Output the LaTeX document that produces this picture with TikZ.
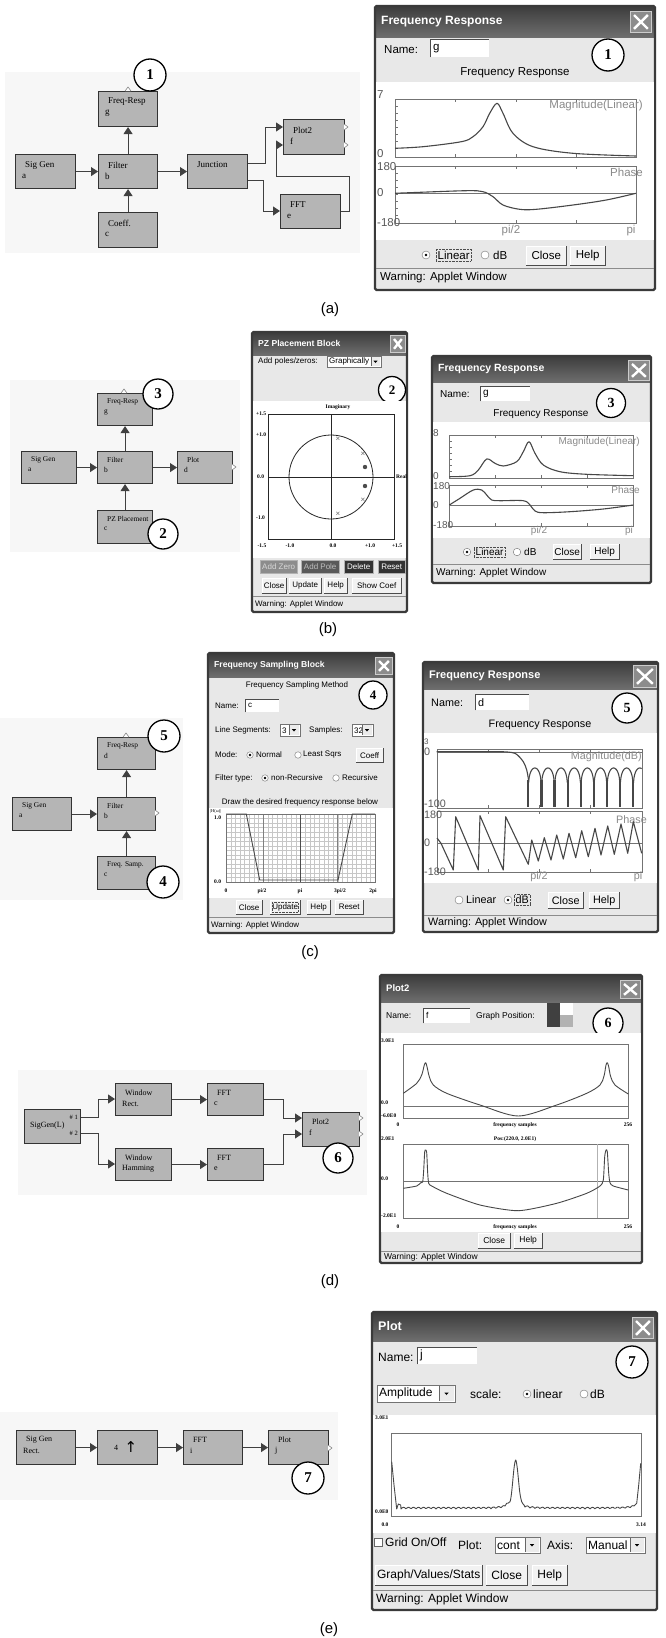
\documentclass[tikz,border=0pt]{standalone}
\usepackage{fontspec}
\setmainfont{Liberation Serif}
\setsansfont{Liberation Sans}
\newfontfamily\symfont{DejaVu Sans}
\usetikzlibrary{arrows.meta,calc}

\newcommand{\pxfont}[1]{\fontsize{#1}{#1}\selectfont}
\definecolor{panel}{HTML}{E8E8E8}
\definecolor{tbtop}{HTML}{3C3C3C}
\definecolor{tbbot}{HTML}{6E6E6E}
\definecolor{winframe}{HTML}{3A3A3A}
\definecolor{curvec}{HTML}{474747}
\definecolor{lbl}{HTML}{8A8A8A}
\definecolor{blockfill}{HTML}{B5B5B5}
\definecolor{canvas}{HTML}{F7F7F7}

\newcommand{\blkfs}{9}
\newcommand{\lnA}{11}
\newcommand{\lnB}{22}

% block of the signal-flow editor: name, x1, y1, x2, y2, first line, second line
\newcommand{\blockat}[7]{%
  \node[blk, minimum width={#4-#2}, minimum height={#5-#3}] (#1) at (#2,#3) {};
  \node[btxt] (#1-a) at ({#2+10},{#3+\lnA}) {#6};
  \node[btxt] (#1-b) at ({#2+7},{#3+\lnB}) {#7};
}
\newcommand{\portR}[2]{\draw[port] (#1,{#2-3}) -- ({#1+4},#2) -- (#1,{#2+3});}
\newcommand{\portT}[2]{\draw[port] ({#1-3},#2) -- (#1,{#2-4}) -- ({#1+3},#2);}

% applet window: name, x1, y1, x2, y2, title-bar bottom, title, title size
\newcommand{\appwin}[8]{%
  \fill[panel] (#2,#3) rectangle (#4,#5);
  \shade[top color=tbtop, bottom color=tbbot] (#2,#3) rectangle (#4,#6);
  \draw[winframe, line width=2.2pt, rounded corners=1.5pt] (#2,#3) rectangle (#4,#5);
  \node[font=\sffamily\bfseries\pxfont{#8}, text=white, anchor=west, inner sep=0pt] (#1-title) at ({#2+6},{(#3+#6)/2}) {#7};
}
% close box of the title bar
\newcommand{\closebtn}[5]{%
  \node[draw=white!80!black, line width=0.8pt, fill=black!45, minimum width={#4-#2}, minimum height={#5-#3}, anchor=north west, inner sep=0pt] (#1) at (#2,#3) {};
  \draw[white, line width=2.4pt] ($(#1.north west)+(4,4)$) -- ($(#1.south east)+(-4,-4)$) ($(#1.north east)+(-4,4)$) -- ($(#1.south west)+(4,-4)$);
}
% push button
\newcommand{\uibtn}[6]{%
  \node[fill=black!5, minimum width={#4-#2}, minimum height={#5-#3}, anchor=north west, inner sep=0pt] (#1) at (#2,#3) {};
  \node[inner sep=0pt] (#1-t) at (#1.center) {#6};
  \draw[white, line width=0.8pt] (#1.south west) -- (#1.north west) -- (#1.north east);
  \draw[black!70, line width=0.9pt] (#1.north east) -- (#1.south east) -- (#1.south west);
}
% flat coloured button
\newcommand{\flatbtn}[8]{%
  \node[fill=#6, draw=black!30, minimum width={#4-#2}, minimum height={#5-#3}, anchor=north west, inner sep=0pt] (#1) at (#2,#3) {};
  \node[text=#7, inner sep=0pt] (#1-t) at (#1.center) {#8};
}
% text field
\newcommand{\txtbox}[6]{%
  \node[fill=white, minimum width={#4-#2}, minimum height={#5-#3}, anchor=north west, inner sep=0pt] (#1) at (#2,#3) {};
  \draw[black!70, line width=0.9pt] (#1.south west) -- (#1.north west) -- (#1.north east);
  \node[anchor=west, inner sep=0pt] (#1-t) at ($(#1.west)+(3,0)$) {#6};
}
% drop-down list
\newcommand{\ddown}[6]{%
  \node[fill=white, draw=black!55, line width=0.6pt, minimum width={#4-#2}, minimum height={#5-#3}, anchor=north west, inner sep=0pt] (#1) at (#2,#3) {};
  \node[anchor=west, inner sep=0pt] (#1-t) at ($(#1.west)+(2,0)$) {#6};
  \fill[black!8] ({#4-(#5-#3)+1},{#3+1}) rectangle ({#4-1},{#5-1});
  \draw[black!60, line width=0.5pt] ({#4-(#5-#3)+1},{#3+1}) -- ({#4-(#5-#3)+1},{#5-1});
  \fill[black] ({#4-(#5-#3)/2-2.2},{(#3+#5)/2-1}) -- ({#4-(#5-#3)/2+2.2},{(#3+#5)/2-1}) -- ({#4-(#5-#3)/2},{(#3+#5)/2+1.5}) -- cycle;
}
% radio buttons: name, x, y, size
\newcommand{\radio}[4]{\node[circle, draw=black!55, fill=white, minimum size=#4pt, inner sep=0pt] (#1) at (#2,#3) {};}
\newcommand{\radioon}[4]{\radio{#1}{#2}{#3}{#4}\fill[black] (#1.center) circle (1.4pt);}

\tikzset{
  blk/.style={rectangle, draw=black!80, fill=blockfill, line width=1.1pt, inner sep=0pt, anchor=north west},
  btxt/.style={font=\rmfamily\pxfont{\blkfs}, anchor=west, inner sep=0pt},
  conn/.style={draw=black!75, line width=0.9pt, -{Triangle[length=7pt,width=9pt]}},
  num/.style={circle, draw=black, line width=1.3pt, fill=white, minimum size=32pt, inner sep=0pt, font=\rmfamily\bfseries\pxfont{15}},
  port/.style={draw=black!55, fill=white, line width=0.5pt},
  lab/.style={anchor=west, inner sep=0pt},
  ctr/.style={inner sep=0pt},
  curve/.style={draw=curvec, line width=1.1pt, line join=round},
  pbox/.style={draw=black!55, line width=0.8pt},
  glbl/.style={text=lbl, inner sep=0pt},
  tinyl/.style={font=\rmfamily\bfseries\pxfont{5.5}, inner sep=0pt},
  sep/.style={draw=black!45, line width=0.8pt},
  caption/.style={font=\sffamily\pxfont{15}, inner sep=0pt},
}

\begin{document}
\begin{tikzpicture}[x=1pt,y=-1pt]
\useasboundingbox (0,0) rectangle (665,1638);
\fill[white] (0,0) rectangle (665,1638);

% =========================== (a) ===========================
\fill[canvas] (5,72) rectangle (360,253);
\blockat{fra}{98}{91}{157}{126}{Freq-Resp}{g}
\blockat{sga}{15}{154}{75}{188}{Sig Gen}{a}
\blockat{fla}{98}{154}{157}{188}{Filter}{b}
\blockat{jna}{187}{154}{247}{188}{Junction}{}
\blockat{coa}{98}{212}{157}{247}{Coeff.}{c}
\blockat{p2a}{283}{119}{344}{154}{Plot2}{f}
\blockat{ffa}{280}{194}{340}{228}{FFT}{e}
\draw[conn] (sga) -- (fla);
\draw[conn] (fla) -- (jna);
\draw[conn] (fla) -- (fra);
\draw[conn] (coa) -- (fla);
\draw[conn] (jna.east |- 0,163) -- (265,163) |- (p2a.west |- 0,127);
\draw[conn] (jna.east |- 0,180) -- (263,180) |- (ffa.west |- 0,211);
\draw[conn] (ffa.east |- 0,211) -- (349,211) -- (349,176) -- (276,176) |- (p2a.west |- 0,145);
\portT{128}{91}
\portR{344}{127}\portR{344}{145}
\node[num] (a-n1) at (150,75) {1};

\appwin{wa}{375}{6}{655}{290}{37}{Frequency Response}{12}
\closebtn{wa-x}{630}{11}{651}{32}
\begin{scope}[font=\sffamily\pxfont{11.5}]
\node[lab] (wa-name) at (384,50) {Name:};
\txtbox{wa-tb}{430}{39}{489}{57}{g}
\node[num] (wa-n1) at (608,55) {1};
\node[ctr] (wa-head) at (515,73) {Frequency Response};
\fill[white] (376,82) rectangle (654,240);
\draw[pbox] (395,99) rectangle (636,157);
\draw[pbox] (395,166) rectangle (636,223);
\draw[pbox] (395,193) -- (636,193);
\foreach \tx in {455,516,576} {\draw[pbox] (\tx,99) -- (\tx,102) (\tx,157) -- (\tx,154) (\tx,166) -- (\tx,169) (\tx,223) -- (\tx,220);}
\foreach \ty in {106,113,...,150} {\draw[pbox] (395,\ty) -- (398,\ty);}
\foreach \ty in {173,180,...,216} {\draw[pbox] (395,\ty) -- (398,\ty);}
\node[lab, text=black!65] (wa-m7) at (377,95) {7};
\node[lab, text=black!65] (wa-m0) at (377,154) {0};
\node[lab, text=black!65] (wa-p180) at (377,167) {180};
\node[lab, text=black!65] (wa-p0) at (377,193) {0};
\node[lab, text=black!65] (wa-pm180) at (377,223) {-180};
\node[glbl, anchor=east] (wa-mag) at (643,106) {Magnitude(Linear)};
\node[glbl, anchor=east] (wa-ph) at (643,172) {Phase};
\node[glbl] (wa-pi2) at (511,231) {pi/2};
\node[glbl] (wa-pi) at (631,231) {pi};
\draw[curve] plot[smooth, tension=0.55] coordinates {(395,148.3) (423,146.7) (461.3,141.7) (473,136.7) (483,126.7) (489.7,113.3) (497,103.3) (503,113.3) (513,133.3) (533,146.7) (573,153.3) (636,156)};
\draw[curve] plot[smooth, tension=0.55] coordinates {(395,193.3) (409.7,192.7) (466.3,190.7) (483,191.7) (493,196.7) (503,205) (519.7,209.3) (536.3,209.3) (573,205) (606.3,200) (636,193.3)};
\radioon{wa-r1}{426}{255}{8}
\node[lab, draw=black!70, densely dotted, inner sep=1.5pt] (wa-lin) at (436,255) {Linear};
\radio{wa-r2}{485}{255}{8}
\node[lab] (wa-db) at (493,255) {dB};
\uibtn{wa-close}{526}{246}{566}{265}{Close}
\uibtn{wa-help}{570}{246}{605}{265}{Help}
\draw[sep] (376,268) -- (654,268);
\node[lab] (wa-warn) at (380,278) {Warning: Applet Window};
\end{scope}
\node[caption] (cap-a) at (330,310) {(a)};

% =========================== (b) ===========================
\renewcommand{\blkfs}{7.4}\renewcommand{\lnA}{9}\renewcommand{\lnB}{19}
\fill[canvas] (10,380) rectangle (240,552);
\blockat{frb}{97}{393}{152}{425}{Freq-Resp}{g}
\blockat{sgb}{21}{451}{76}{483}{Sig Gen}{a}
\blockat{flb}{97}{451}{152}{483}{Filter}{b}
\blockat{plb}{177}{451}{232}{483}{Plot}{d}
\blockat{pzb}{97}{510}{152}{543}{PZ Placement}{c}
\draw[conn] (sgb) -- (flb);
\draw[conn] (flb) -- (plb);
\draw[conn] (flb) -- (frb);
\draw[conn] (pzb) -- (flb);
\portT{124}{393}
\portR{232}{467}
\node[num, minimum size=30pt] (b-n3) at (158,394) {3};
\node[num, minimum size=30pt] (b-n2) at (163,534) {2};

% pole/zero placement window
\appwin{wpz}{252}{332}{407}{612}{355}{PZ Placement Block}{8.6}
\closebtn{wpz-x}{390}{335}{405}{352}
\begin{scope}[font=\sffamily\pxfont{8}]
\node[lab] (wpz-add) at (258,361) {Add poles/zeros:};
\ddown{wpz-dd}{327}{356}{381}{367}{Graphically}
\node[num, minimum size=27pt, font=\rmfamily\bfseries\pxfont{13}] (wpz-n2) at (392,390) {2};
\fill[white] (253,401) rectangle (406,558);
\node[tinyl] (wpz-im) at (338,407) {Imaginary};
\draw[pbox, draw=black!85] (268,414) rectangle (394,539);
\draw[black!85, line width=0.8pt] (331,414) -- (331,539) (268,477) -- (394,477);
\draw[black!85, line width=0.8pt] (331,477) circle (42pt);
\node[tinyl, anchor=west] (wpz-y1) at (256,414) {+1.5};
\node[tinyl, anchor=west] (wpz-y2) at (256,435) {+1.0};
\node[tinyl, anchor=west] (wpz-y3) at (257,477) {0.0};
\node[tinyl, anchor=west] (wpz-y4) at (256,518) {-1.0};
\node[tinyl] (wpz-x1) at (262,546) {-1.5};
\node[tinyl] (wpz-x2) at (290,546) {-1.0};
\node[tinyl] (wpz-x3) at (333,546) {0.0};
\node[tinyl] (wpz-x4) at (370,546) {+1.0};
\node[tinyl] (wpz-x5) at (397,546) {+1.5};
\node[tinyl, anchor=west] (wpz-re) at (396,477) {Real};
\foreach \px/\py [count=\i] in {338/439,363/454,363/500,338/514} {\node[text=black!60, font=\sffamily\pxfont{8}, inner sep=0pt] (wpz-p\i) at (\px,\py) {×};}
\fill[black!70] (365,467) circle (2.2pt) (365,486) circle (2.2pt);
\flatbtn{wpz-b1}{260}{560}{297}{573}{black!45}{black!15}{Add Zero}
\flatbtn{wpz-b2}{301}{560}{339}{573}{black!65}{black!25}{Add Pole}
\flatbtn{wpz-b3}{344}{560}{373}{573}{black!80}{white}{Delete}
\flatbtn{wpz-b4}{378}{560}{405}{573}{black!80}{white}{Reset}
\uibtn{wpz-c1}{262}{578}{286}{593}{Close}
\uibtn{wpz-c2}{289}{578}{321}{593}{Update}
\uibtn{wpz-c3}{324}{578}{347}{593}{Help}
\uibtn{wpz-c4}{352}{578}{401}{593}{Show Coef}
\draw[sep] (253,596) -- (406,596);
\node[lab] (wpz-warn) at (255,604) {Warning: Applet Window};
\end{scope}
\node[caption] (cap-b) at (328,630) {(b)};

% frequency response window
\appwin{wfb}{432}{356}{651}{583}{382}{Frequency Response}{10.5}
\closebtn{wfb-x}{628}{360}{649}{380}
\begin{scope}[font=\sffamily\pxfont{10}]
\node[lab] (wfb-name) at (440,394) {Name:};
\txtbox{wfb-tb}{480}{386}{530}{401}{g}
\node[num, minimum size=29pt, font=\rmfamily\bfseries\pxfont{14}] (wfb-n3) at (611,403) {3};
\node[ctr] (wfb-head) at (541,414) {Frequency Response};
\fill[white] (433,422) rectangle (650,538);
\draw[pbox] (449,435) rectangle (633,478);
\draw[pbox] (449,485) rectangle (633,526);
\draw[pbox] (449,505) -- (633,505);
\foreach \tx in {495,541,587} {\draw[pbox] (\tx,435) -- (\tx,438) (\tx,478) -- (\tx,475) (\tx,485) -- (\tx,488) (\tx,526) -- (\tx,523);}
\foreach \ty in {441,447,...,472} {\draw[pbox] (449,\ty) -- (452,\ty);}
\node[lab, text=black!65] (wfb-m8) at (433,433) {8};
\node[lab, text=black!65] (wfb-m0) at (433,476) {0};
\node[lab, text=black!65] (wfb-p180) at (433,486) {180};
\node[lab, text=black!65] (wfb-p0) at (433,505) {0};
\node[lab, text=black!65] (wfb-pm180) at (433,525) {-180};
\node[glbl, anchor=east] (wfb-mag) at (640,442) {Magnitude(Linear)};
\node[glbl, anchor=east] (wfb-ph) at (640,490) {Phase};
\node[glbl] (wfb-pi2) at (539,531) {pi/2};
\node[glbl] (wfb-pi) at (629,531) {pi};
\draw[curve] plot[smooth, tension=0.55] coordinates {(449.3,476.7) (470,475.7) (478.3,470) (486.7,459) (495,463.3) (503.3,466) (516.7,461.7) (523.3,451.7) (529,441.7) (535,453.3) (543.3,465) (560,471.7) (586.7,474.3) (633.3,475.7)};
\draw[curve] plot[smooth, tension=0.55] coordinates {(449.3,505) (460,498.3) (473.3,490) (481.7,490) (486.7,495) (491.7,500) (500,500.7) (523.3,500.7) (530,505) (535,511) (543.3,512.7) (570,511.7) (603.3,509) (633.3,505)};
\radioon{wfb-r1}{467}{552}{7.5}
\node[lab, draw=black!70, densely dotted, inner sep=1.5pt] (wfb-lin) at (474,552) {Linear};
\radio{wfb-r2}{517}{552}{7.5}
\node[lab] (wfb-db) at (524,552) {dB};
\uibtn{wfb-close}{553}{544}{581}{559}{Close}
\uibtn{wfb-help}{590}{544}{619}{559}{Help}
\draw[sep] (433,564) -- (650,564);
\node[lab] (wfb-warn) at (436,573) {Warning: Applet Window};
\end{scope}

% =========================== (c) ===========================
\fill[canvas] (0,718) rectangle (183,900);
\blockat{frc}{97}{737}{155}{769}{Freq-Resp}{d}
\blockat{sgc}{12}{797}{71}{830}{Sig Gen}{a}
\blockat{flc}{97}{797}{155}{830}{Filter}{b}
\blockat{fsc}{97}{856}{155}{889}{Freq. Samp.}{c}
\draw[conn] (sgc) -- (flc);
\draw[conn] (flc) -- (frc);
\draw[conn] (fsc) -- (flc);
\portT{126}{737}
\portR{155}{813}
\node[num, minimum size=32pt] (c-n5) at (164,736) {5};
\node[num, minimum size=32pt] (c-n4) at (163,882) {4};

% frequency sampling window
\appwin{wfs}{208}{653}{394}{933}{677}{Frequency Sampling Block}{8.6}
\closebtn{wfs-x}{375}{657}{392}{674}
\begin{scope}[font=\sffamily\pxfont{8}]
\node[ctr] (wfs-head) at (297,685) {Frequency Sampling Method};
\node[num, minimum size=28pt, font=\rmfamily\bfseries\pxfont{13}] (wfs-n4) at (373,695) {4};
\node[lab] (wfs-name) at (215,706) {Name:};
\txtbox{wfs-tb}{245}{699}{279}{712}{c}
\node[lab] (wfs-ls) at (215,730) {Line Segments:};
\ddown{wfs-dd1}{280}{724}{300}{736}{3}
\node[lab] (wfs-sm) at (309,730) {Samples:};
\ddown{wfs-dd2}{352}{724}{373}{736}{32}
\node[lab] (wfs-mode) at (215,755) {Mode:};
\radioon{wfs-r1}{250}{755}{6.5}
\node[lab] (wfs-nor) at (256,755) {Normal};
\radio{wfs-r2}{298}{755}{6.5}
\node[lab] (wfs-lsq) at (303,755) {Least Sqrs};
\uibtn{wfs-coeff}{356}{748}{383}{762}{Coeff}
\node[lab] (wfs-ft) at (215,778) {Filter type:};
\radioon{wfs-r3}{265}{778}{6.5}
\node[lab] (wfs-nr) at (271,778) {non-Recursive};
\radio{wfs-r4}{336}{778}{6.5}
\node[lab] (wfs-rec) at (342,778) {Recursive};
\node[ctr] (wfs-draw) at (300,802) {Draw the desired frequency response below};
\fill[white] (209,808) rectangle (393,898);
\foreach \i in {1,...,31} {\draw[black!22, line width=0.3pt] ({226+\i*149/32},814) -- ({226+\i*149/32},882);}
\foreach \j in {1,...,14} {\draw[black!22, line width=0.3pt] (226,{814+\j*68/15}) -- (375,{814+\j*68/15});}
\draw[black!50, line width=0.6pt] (263.25,814) -- (263.25,882) (337.75,814) -- (337.75,882);
\draw[black!70, line width=1pt] (300.5,814) -- (300.5,882);
\draw[pbox] (226,814) rectangle (375,882);
\draw[curve, line width=0.9pt] (226,814) -- (246.3,814) -- (259.7,880) -- (338,880) -- (352.3,814) -- (375,814);
\node[tinyl, anchor=west, font=\rmfamily\pxfont{4.5}] (wfs-h) at (210,811) {|H(ω)|};
\node[tinyl, anchor=west] (wfs-y1) at (214,818) {1.0};
\node[tinyl, anchor=west] (wfs-y0) at (214,882) {0.0};
\node[tinyl] (wfs-x0) at (226,891) {0};
\node[tinyl] (wfs-x1) at (262,891) {pi/2};
\node[tinyl] (wfs-x2) at (300,891) {pi};
\node[tinyl] (wfs-x3) at (340,891) {3pi/2};
\node[tinyl] (wfs-x4) at (373,891) {2pi};
\uibtn{wfs-b1}{236}{900}{262}{914}{Close}
\uibtn{wfs-b2}{270}{900}{300}{914}{Update}
\draw[black!70, densely dotted] (272,902) rectangle (298,912);
\uibtn{wfs-b3}{307}{900}{330}{914}{Help}
\uibtn{wfs-b4}{335}{900}{363}{914}{Reset}
\draw[sep] (209,917) -- (393,917);
\node[lab] (wfs-warn) at (211,925) {Warning: Applet Window};
\end{scope}
\node[caption] (cap-c) at (310,953) {(c)};

% frequency response window (dB)
\appwin{wfc}{423}{662}{658}{932}{689}{Frequency Response}{11}
\closebtn{wfc-x}{633}{665}{656}{687}
\begin{scope}[font=\sffamily\pxfont{10.8}]
\node[lab] (wfc-name) at (431,703) {Name:};
\txtbox{wfc-tb}{475}{694}{529}{710}{d}
\node[num, minimum size=30pt, font=\rmfamily\bfseries\pxfont{14}] (wfc-n5) at (627,708) {5};
\node[ctr] (wfc-head) at (540,725) {Frequency Response};
\fill[white] (424,733) rectangle (657,883);
\draw[pbox] (437,749) rectangle (642,808);
\draw[pbox] (437,811) rectangle (642,872);
\draw[pbox] (437,752) -- (642,752);
\draw[pbox] (437,843.3) -- (642,843.3);
\foreach \tx in {488,539,590} {\draw[pbox] (\tx,749) -- (\tx,752) (\tx,808) -- (\tx,805) (\tx,811) -- (\tx,814) (\tx,872) -- (\tx,869);}
\node[lab, text=black!65, font=\sffamily\pxfont{8}] (wfc-m3) at (424,742) {3};
\node[lab, text=black!65] (wfc-m0) at (424,752) {0};
\node[lab, text=black!65] (wfc-m100) at (424,804) {-100};
\node[lab, text=black!65] (wfc-p180) at (424,815) {180};
\node[lab, text=black!65] (wfc-p0) at (424,843) {0};
\node[lab, text=black!65] (wfc-pm180) at (424,872) {-180};
\node[glbl, anchor=east] (wfc-mag) at (642,757) {Magnitude(dB)};
\node[glbl, anchor=east] (wfc-ph) at (647,820) {Phase};
\node[glbl] (wfc-pi2) at (539,877) {pi/2};
\node[glbl] (wfc-pi) at (638,877) {pi};
\draw[curve] (436.7,751.7) -- (501.7,751.7) plot[smooth] coordinates {(501.7,751.7) (515,753.3) (523.3,761.7) (526.7,770) (528.3,778.3)} -- (528.3,806.7);
\foreach \xn in {528.3,541.4,554.5,567.6,580.8,593.9,607,620.1} {
  \draw[curve] plot[domain=0.02:0.98, samples=25] ({\xn+13.125*\x},{768+38*(1-abs(sin(180*\x))^0.18)});
}
\draw[curve] plot[domain=0.02:0.64, samples=18] ({633.2+13.125*\x},{768+38*(1-abs(sin(180*\x))^0.18)});
\foreach \xn in {528.3,541.4,554.5,567.6,580.8,593.9,607,620.1,633.2} {\draw[curvec, line width=2.2pt] (\xn,780) -- (\xn,806.7);}
\draw[curve] plot coordinates {(437,838) (441,843.3) (453.3,870) (455.7,816.7) (478.3,870) (480,815.7) (503.3,870) (505.7,816.7) (528.3,864.3) (531.7,840) (538.3,861) (544.3,837.7) (551,860) (556.7,835) (563.3,859) (569,833.3) (575.7,857.7) (581.7,830.7) (588.3,856.7) (595,828.3) (601,855) (607.7,826) (614.3,854.3) (621,824) (627.7,853.3) (633.3,821.7) (641.7,853.3)};
\radio{wfc-r1}{459}{900}{8}
\node[lab] (wfc-lin) at (466,900) {Linear};
\radioon{wfc-r2}{508}{900}{8}
\node[lab, draw=black!70, densely dotted, inner sep=1.5pt] (wfc-db) at (514,900) {dB};
\uibtn{wfc-close}{548}{892}{583}{908}{Close}
\uibtn{wfc-help}{589}{892}{619}{908}{Help}
\draw[sep] (424,915) -- (657,915);
\node[lab] (wfc-warn) at (428,923) {Warning: Applet Window};
\end{scope}

% =========================== (d) ===========================
\renewcommand{\blkfs}{8}\renewcommand{\lnA}{10}\renewcommand{\lnB}{21}
\fill[canvas] (18,1070) rectangle (367,1195);
\blockat{sgd}{24}{1109}{80}{1143}{}{}
\node[btxt] (sgd-t) at (30,1126) {SigGen(L)};
\node[btxt, font=\rmfamily\pxfont{6.5}, anchor=east] (sgd-o1) at (78,1117) {\# 1};
\node[btxt, font=\rmfamily\pxfont{6.5}, anchor=east] (sgd-o2) at (78,1133) {\# 2};
\blockat{wrd}{115}{1083}{171}{1115}{Window}{Rect.}
\blockat{fcd}{207}{1083}{263}{1115}{FFT}{c}
\blockat{whd}{115}{1148}{171}{1180}{Window}{Hamming}
\blockat{fed}{207}{1148}{263}{1180}{FFT}{e}
\blockat{p2d}{302}{1112}{359}{1146}{Plot2}{f}
\draw[conn] (sgd.east |- 0,1117) -- (98,1117) |- (wrd.west |- 0,1099);
\draw[conn] (sgd.east |- 0,1133) -- (98,1133) |- (whd.west |- 0,1164);
\draw[conn] (wrd) -- (fcd);
\draw[conn] (whd) -- (fed);
\draw[conn] (fcd.east |- 0,1099) -- (283,1099) |- (p2d.west |- 0,1118);
\draw[conn] (fed.east |- 0,1164) -- (283,1164) |- (p2d.west |- 0,1134);
\portR{359}{1118}\portR{359}{1134}
\node[num, minimum size=30pt] (d-n6) at (338,1158) {6};

% two-graph plot window
\appwin{wp2}{380}{975}{642}{1263}{1002}{Plot2}{9.5}
\closebtn{wp2-x}{620}{980}{640}{998}
\begin{scope}[font=\sffamily\pxfont{8.5}]
\node[lab] (wp2-name) at (386,1016) {Name:};
\txtbox{wp2-tb}{423}{1008}{470}{1023}{f}
\node[lab] (wp2-gp) at (476,1016) {Graph Position:};
\fill[black!75] (547,1003) rectangle (560,1015);
\fill[white] (560,1003) rectangle (573,1015);
\fill[black!75] (547,1015) rectangle (560,1027);
\fill[black!30] (560,1015) rectangle (573,1027);
\node[num, minimum size=30pt, font=\rmfamily\bfseries\pxfont{14}] (wp2-n6) at (608,1023) {6};
\fill[white] (381,1033) rectangle (641,1232);
\draw[pbox] (403,1044) rectangle (628,1118);
\draw[pbox] (403,1106) -- (628,1106);
\draw[pbox] (403,1144) rectangle (628,1218);
\draw[pbox] (403,1181) -- (628,1181);
\draw[black!30, line width=0.6pt] (597,1144) -- (597,1218);
\node[tinyl, anchor=west] (wp2-a1) at (381,1041) {3.0E1};
\node[tinyl, anchor=west] (wp2-a2) at (381,1103) {0.0};
\node[tinyl, anchor=west] (wp2-a3) at (381,1116) {-6.0E0};
\node[tinyl] (wp2-a4) at (398,1125) {0};
\node[tinyl] (wp2-a5) at (515,1125) {frequency samples};
\node[tinyl] (wp2-a6) at (628,1125) {256};
\node[tinyl] (wp2-pos) at (515,1139) {Pos:(220.0, 2.0E1)};
\node[tinyl, anchor=west] (wp2-b1) at (381,1139) {2.0E1};
\node[tinyl, anchor=west] (wp2-b2) at (381,1179) {0.0};
\node[tinyl, anchor=west] (wp2-b3) at (381,1216) {-2.0E1};
\node[tinyl] (wp2-b4) at (398,1227) {0};
\node[tinyl] (wp2-b5) at (515,1227) {frequency samples};
\node[tinyl] (wp2-b6) at (628,1227) {256};
\draw[curve, line width=0.9pt] plot[smooth, tension=0.5] coordinates {(403.3,1093.3) (416.7,1083.3) (421.7,1075) (424.3,1065) (425.7,1062.7) (427,1066.7) (429.3,1076.7) (433.3,1085) (446.7,1093.3) (480,1105) (518.3,1116) (556.7,1105) (586.7,1093.3) (600,1085) (604,1076) (606,1065) (607.3,1062.7) (608.7,1066.7) (610.7,1076.7) (615,1085) (628.3,1094)};
\draw[curve, line width=0.9pt] plot[smooth, tension=0.4] coordinates {(403.3,1188.3) (416.7,1186) (420.7,1182.7) (422.7,1181.7) (423.7,1170) (424.7,1151.7) (425.7,1150) (426.7,1152.7) (427.7,1173.3) (428.7,1183.3) (431.7,1186) (446.7,1193.3) (480,1205) (518.3,1210.7) (556.7,1203.3) (586.7,1193.3) (600,1186) (603.3,1180) (604.7,1156.7) (606,1150) (607.3,1151.7) (608.7,1173.3) (610,1182.7) (613.3,1186) (628.3,1190)};
\uibtn{wp2-close}{478}{1233}{510}{1248}{Close}
\uibtn{wp2-help}{514}{1233}{542}{1248}{Help}
\draw[sep] (381,1251) -- (641,1251);
\node[lab] (wp2-warn) at (384,1257) {Warning: Applet Window};
\end{scope}
\node[caption] (cap-d) at (330,1282) {(d)};

% =========================== (e) ===========================
\fill[canvas] (0,1412) rectangle (338,1500);
\blockat{sge}{16}{1430}{75}{1464}{Sig Gen}{Rect.}
\blockat{upe}{97}{1430}{157}{1464}{}{}
\node[btxt] (upe-n) at (114,1448) {4};
\node[font=\symfont\pxfont{15}, inner sep=0pt] (upe-ar) at (131,1447) {↑};
\blockat{ffe}{183}{1430}{242}{1464}{FFT}{i}
\blockat{ple}{268}{1430}{328}{1464}{Plot}{j}
\draw[conn] (sge) -- (upe);
\draw[conn] (upe) -- (ffe);
\draw[conn] (ffe) -- (ple);
\portR{328}{1448}
\node[num, minimum size=32pt] (e-n7) at (308,1478) {7};

% single-graph plot window
\appwin{wpl}{372}{1312}{657}{1610}{1341}{Plot}{12.5}
\closebtn{wpl-x}{632}{1317}{653}{1338}
\begin{scope}[font=\sffamily\pxfont{12}]
\node[lab] (wpl-name) at (378,1357) {Name:};
\txtbox{wpl-tb}{417}{1347}{477}{1364}{j}
\node[num, minimum size=32pt] (wpl-n7) at (632,1362) {7};
\ddown{wpl-dd}{377}{1385}{455}{1402}{Amplitude}
\node[lab] (wpl-sc) at (470,1394) {scale:};
\radioon{wpl-r1}{527}{1394}{8}
\node[lab] (wpl-lin) at (533,1394) {linear};
\radio{wpl-r2}{584}{1394}{8}
\node[lab] (wpl-db) at (590,1394) {dB};
\fill[white] (373,1415) rectangle (656,1533);
\draw[pbox] (391,1433) rectangle (641,1516);
\node[tinyl, anchor=west] (wpl-y1) at (375,1418) {3.0E1};
\node[tinyl, anchor=west] (wpl-y0) at (375,1512) {0.0E0};
\node[tinyl] (wpl-x0) at (385,1525) {0.0};
\node[tinyl] (wpl-x1) at (641,1525) {3.14};
\draw[curve, line width=0.9pt] plot coordinates {(391.7,1461.7) (394,1485) (396.7,1509) (398.3,1504) (400.7,1505)}
  -- plot[domain=401:505, samples=90] (\x,{1509-1.8*abs(sin(36*(\x-401)))-2*exp(-(505-\x)/6)})
  -- plot[smooth, tension=0.5] coordinates {(506.7,1503.3) (510,1501.7) (511.7,1491.7) (514,1468.3) (515.7,1460) (517.3,1468.3) (519.7,1491.7) (521.7,1501.7) (524,1505)}
  -- plot[domain=525:634, samples=90] (\x,{1509-1.8*abs(sin(36*(\x-525)))-2*exp(-(\x-525)/6)-2*exp(-(634-\x)/6)})
  -- plot coordinates {(636.7,1503.3) (638.7,1485) (640.7,1463.3)};
\node[fill=white, draw=black!60, minimum size=8pt, inner sep=0pt] (wpl-cb) at (378,1542) {};
\node[lab] (wpl-grid) at (385,1542) {Grid On/Off};
\node[lab] (wpl-plot) at (458,1545) {Plot:};
\ddown{wpl-dd2}{495}{1537}{540}{1553}{cont}
\node[lab] (wpl-axis) at (547,1545) {Axis:};
\ddown{wpl-dd3}{586}{1537}{645}{1553}{Manual}
\uibtn{wpl-b1}{375}{1565}{482}{1585}{Graph/Values/Stats}
\uibtn{wpl-b2}{486}{1565}{527}{1585}{Close}
\uibtn{wpl-b3}{532}{1565}{567}{1585}{Help}
\draw[sep] (373,1590) -- (656,1590);
\node[lab] (wpl-warn) at (376,1599) {Warning: Applet Window};
\end{scope}
\node[caption] (cap-e) at (329,1630) {(e)};
\end{tikzpicture}
\end{document}
